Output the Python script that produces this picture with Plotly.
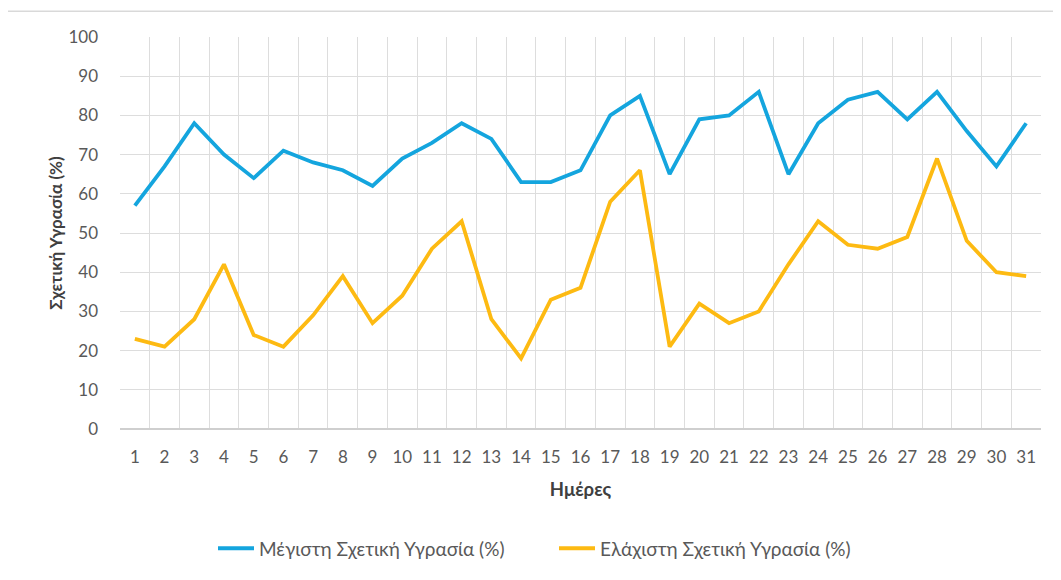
import plotly.graph_objects as go

days = list(range(1, 32))
max_rh = [57, 67, 78, 70, 64, 71, 68, 66, 62, 69, 73, 78, 74, 63, 63, 66,
          80, 85, 65, 79, 80, 86, 65, 78, 84, 86, 79, 86, 76, 67, 78]
min_rh = [23, 21, 28, 42, 24, 21, 29, 39, 27, 34, 46, 53, 28, 18, 33, 36,
          58, 66, 21, 32, 27, 30, 42, 53, 47, 46, 49, 69, 48, 40, 39]
y_ticks = list(range(0, 101, 10))

# page body has an 8px margin, so the figure is drawn at (8, 8)
OFF = 8
W, H = 1061 - OFF, 580 - OFF
L, T = 120 - OFF, 37 - OFF
pw, ph = 921, 394
R, B = W - L - pw, H - T - ph

def px_x(p):
    return (p - OFF - L) / pw

def px_y(p):
    return (T + ph - (p - OFF)) / ph

fig = go.Figure()
fig.add_trace(go.Scatter(x=days, y=max_rh, mode="lines",
                         name="Μέγιστη Σχετική Υγρασία (%)",
                         line=dict(color="#14A5DE", width=3.8)))
fig.add_trace(go.Scatter(x=days, y=min_rh, mode="lines",
                         name="Ελάχιστη Σχετική Υγρασία (%)",
                         line=dict(color="#FDBA12", width=3.8)))

font_fam = "Lato, 'Open Sans', sans-serif"
fig.update_layout(
    width=W, height=H,
    margin=dict(l=L, r=R, t=T, b=B),
    paper_bgcolor="white", plot_bgcolor="white",
    font=dict(family=font_fam, color="#595959", size=16),
    showlegend=True,
    legend=dict(orientation="h", x=px_x(554), xanchor="center",
                y=px_y(551), yanchor="middle",
                font=dict(size=19, color="#595959"),
                itemwidth=36, entrywidth=290, entrywidthmode="pixels",
                traceorder="normal"),
    xaxis=dict(range=[0.5, 31.5], tickmode="array", tickvals=days,
               ticktext=[str(d) for d in days], showgrid=False,
               zeroline=False, showline=False, ticks="",
               tickfont=dict(size=17, color="#595959"),
               ticklabelstandoff=16,
               minor=dict(tick0=0.5, dtick=1, showgrid=True,
                          gridcolor="#DDDDDD", gridwidth=1),
               title=dict(text="<b>Ημέρες</b>", standoff=17,
                          font=dict(size=18.5, color="#404040"))),
    yaxis=dict(range=[0, 100], tickmode="array", tickvals=y_ticks,
               showgrid=True, gridcolor="#DDDDDD", gridwidth=1,
               zeroline=True, zerolinecolor="#CFCFCF", zerolinewidth=1.5,
               showline=False, ticks="",
               tickfont=dict(size=17, color="#595959"),
               ticklabelstandoff=21,
               title=dict(text="<b>Σχετική Υγρασία (%)</b>", standoff=1,
                          font=dict(size=17, color="#404040"))),
    shapes=[dict(type="rect", xref="paper", yref="paper",
                 x0=px_x(7), x1=px_x(1075), y0=px_y(11), y1=px_y(600),
                 line=dict(color="#D9D9D9", width=1.5), layer="below")],
)

fig.write_html("out.html")
